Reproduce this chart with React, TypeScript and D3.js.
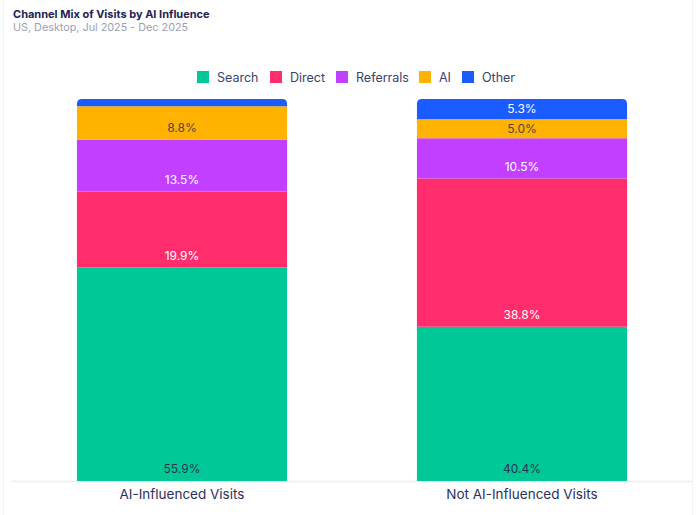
import React from "react";
import * as d3 from "d3";

const categories = ["AI-Influenced Visits", "Not AI-Influenced Visits"];
const seriesNames = ["Search", "Direct", "Referrals", "AI", "Other"];
const search = [55.9, 40.4];
const direct = [19.9, 38.8];
const referrals = [13.5, 10.5];
const ai = [8.8, 5.0];
const other = [1.9, 5.3];
const showLabel = [[true, true], [true, true], [true, true], [true, true], [false, true]];
const colors = ["#00C896", "#FF2D6B", "#C23FFF", "#FFB300", "#1A5CFF"];
const textColors = ["#2a3352", "#ffffff", "#ffffff", "#4a4a4a", "#ffffff"];

const W = 700, H = 515;
const FONT = "Inter, 'Noto Sans', sans-serif";

export default function App() {
  const values = [search, direct, referrals, ai, other];
  const rows = categories.map((c, i) => {
    const r: any = { cat: c };
    seriesNames.forEach((s, k) => (r[s] = values[k][i]));
    return r;
  });
  const stack = d3.stack<any>().keys(seriesNames)(rows);
  const x = d3.scaleBand().domain(categories).range([12, 692]).paddingInner(0.382).paddingOuter(0.191);
  const y = d3.scaleLinear().domain([0, 100]).range([481, 99]);
  const r = 5;

  const legendWidths = [73, 66, 83, 43, 50];
  let lx = 197;
  const legendX = legendWidths.map((w) => { const v = lx; lx += w; return v; });

  return (
    <svg width={W} height={H} style={{ position: "fixed", left: 0, top: 0, background: "#fff" }} fontFamily={FONT}>
      <rect x={3.5} y={-10} width={689} height={H + 20} rx={8} fill="none" stroke="#f1f2f4" strokeWidth={1} />
      <text x={13} y={17.5} fontSize={11} fontWeight={700} fill="#1d2354">Channel Mix of Visits by AI Influence</text>
      <text x={13} y={31} fontSize={10.8} fill="#9aa1b3">US, Desktop, Jul 2025 - Dec 2025</text>

      {seriesNames.map((s, i) => (
        <g key={s} transform={`translate(${legendX[i]},77)`}>
          <rect x={0} y={-6} width={12} height={12} fill={colors[i]} />
          <text x={20} y={4.5} fontSize={12.5} fill="#3a4270">{s}</text>
        </g>
      ))}

      <line x1={11} x2={692} y1={481.5} y2={481.5} stroke="#eceef2" strokeWidth={1.5} />

      {stack.map((layer, k) =>
        layer.map((d, i) => {
          const x0 = x(categories[i])!;
          const bw = x.bandwidth();
          const yTop = y(d[1]);
          const yBot = y(d[0]);
          const isTop = k === stack.length - 1;
          let path: string;
          if (isTop) {
            path = `M${x0},${yBot} L${x0},${yTop + r} Q${x0},${yTop} ${x0 + r},${yTop} L${x0 + bw - r},${yTop} Q${x0 + bw},${yTop} ${x0 + bw},${yTop + r} L${x0 + bw},${yBot} Z`;
          } else {
            path = `M${x0},${yBot} L${x0},${yTop} L${x0 + bw},${yTop} L${x0 + bw},${yBot} Z`;
          }
          const v = d[1] - d[0];
          const ly = Math.max(yBot - 12, (yTop + yBot) / 2);
          return (
            <g key={`${k}-${i}`}>
              <path d={path} fill={colors[k]} />
              {showLabel[k][i] && (
                <text x={x0 + bw / 2} y={ly} dy="0.35em" textAnchor="middle" fontSize={12} fill={textColors[k]}>
                  {v.toFixed(1)}%
                </text>
              )}
            </g>
          );
        })
      )}

      {categories.map((c) => (
        <text key={c} x={x(c)! + x.bandwidth() / 2} y={499} textAnchor="middle" fontSize={13.5} fill="#2a3160">{c}</text>
      ))}
    </svg>
  );
}
